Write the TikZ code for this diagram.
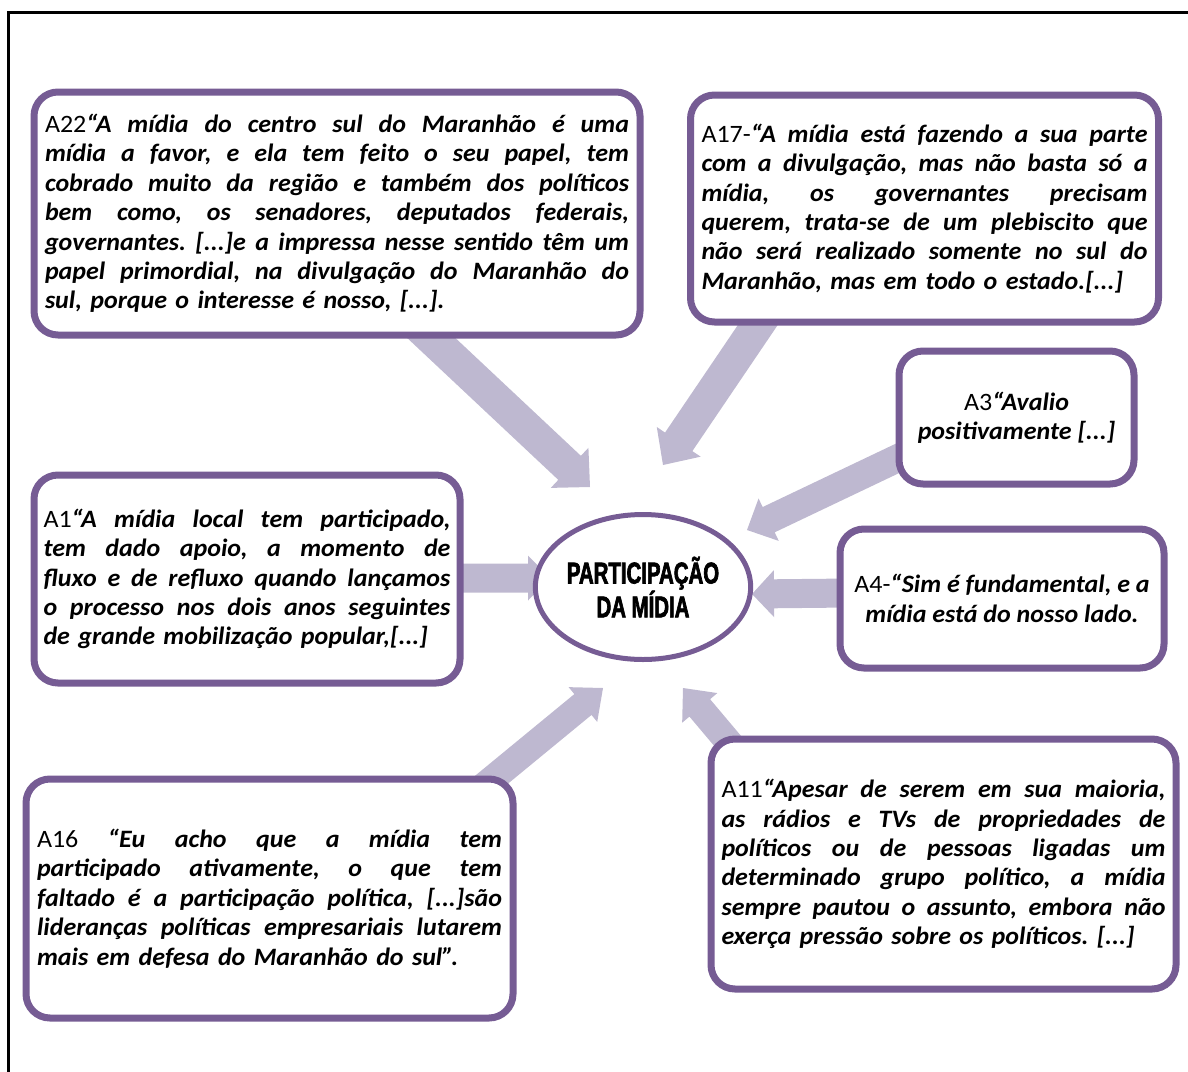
\documentclass[tikz,border=0pt]{standalone}
\usepackage{fontspec}
\setmainfont{Carlito}[FakeStretch=1.04]
\newfontfamily\impactfont{Liberation Sans}[FakeStretch=0.68, BoldFeatures={FakeBold=2.2}]
\usetikzlibrary{calc,shapes.geometric}
\definecolor{boxpurple}{RGB}{118,92,148}
\definecolor{arrowlav}{RGB}{190,184,208}
\newcommand\qt{\bfseries\itshape}
\newcommand\jl[2]{\hbox to #1{\spaceskip=0.23em plus 1fil\relax #2}}
\newcommand\lastl[1]{\hbox{#1}}
\newcommand\blockarrow[5]{%
  \coordinate (ba-b) at ($(#2)!#5!(#1)$);
  \fill[arrowfill] ($(#1)!#3!90:(#2)$) -- ($(ba-b)!#3!90:(#2)$) -- ($(ba-b)!#4!90:(#2)$) -- (#2)
    -- ($(ba-b)!#4!-90:(#2)$) -- ($(ba-b)!#3!-90:(#2)$) -- ($(#1)!#3!-90:(#2)$) -- cycle;}
\tikzset{
  arrowfill/.style={fill=arrowlav},
  quotebox/.style={draw=boxpurple, line width=7pt, rounded corners=24pt, fill=white,
    inner sep=0pt, font=\fontsize{25}{29.4}\selectfont\frenchspacing},
  frameline/.style={line width=3pt, black},
}
\begin{document}
\begin{tikzpicture}[x=1pt,y=-1pt]
\useasboundingbox (0,0) rectangle (1188,1071);
\draw[frameline] (8,1075) -- (8,12) -- (1192,12);
% arrow end points
\coordinate (s1) at (410,318); \coordinate (t1) at (590,487);
\coordinate (s2) at (770,307); \coordinate (t2) at (663,465);
\coordinate (s3) at (915,450); \coordinate (t3) at (747,530);
\coordinate (s4) at (850,593); \coordinate (t4) at (752,594);
\coordinate (s5) at (450,578); \coordinate (t5) at (550,578);
\coordinate (s6) at (479,790); \coordinate (t6) at (603,688);
\coordinate (s7) at (742,758); \coordinate (t7) at (683,688);
\blockarrow{s1}{t1}{16.5pt}{27.5pt}{28pt}
\blockarrow{s2}{t2}{16.5pt}{26.5pt}{28pt}
\blockarrow{s3}{t3}{14pt}{23.5pt}{24pt}
\blockarrow{s4}{t4}{14.5pt}{23.5pt}{22pt}
\blockarrow{s5}{t5}{14.5pt}{22.5pt}{22pt}
\blockarrow{s6}{t6}{13.5pt}{22.5pt}{26pt}
\blockarrow{s7}{t7}{13.5pt}{23pt}{26pt}
% boxes
\node[quotebox, minimum width=606pt, minimum height=243pt, text width=584pt] (a22) at (337,213.5) {%
\jl{584pt}{A22{\qt “A mídia do centro sul do Maranhão é uma}}
\jl{584pt}{\qt mídia a favor, e ela tem feito o seu papel, tem}
\jl{584pt}{\qt cobrado muito da região e também dos políticos}
\jl{584pt}{\qt bem como, os senadores, deputados federais,}
\jl{584pt}{\qt governantes. [...]e a impressa nesse sentido têm um}
\jl{584pt}{\qt papel primordial, na divulgação do Maranhão do}
\lastl{\qt sul, porque o interesse é nosso, [...].}};
\node[quotebox, minimum width=468pt, minimum height=227pt, text width=446pt] (a17) at (924.5,208.5) {%
\jl{446pt}{A17-{\qt “A mídia está fazendo a sua parte}}
\jl{446pt}{\qt com a divulgação, mas não basta só a}
\jl{446pt}{\qt mídia, os governantes precisam}
\jl{446pt}{\qt querem, trata-se de um plebiscito que}
\jl{446pt}{\qt não será realizado somente no sul do}
\lastl{\qt Maranhão, mas em todo o estado.[...]}};
\node[quotebox, minimum width=235pt, minimum height=133pt, align=center] (a3) at (1016.5,417.5) {%
A3{\qt “Avalio}\\{\qt positivamente [...]}};
\node[quotebox, minimum width=324pt, minimum height=139pt, align=center] (a4) at (1002,598.5) {%
A4-{\qt “Sim é fundamental, e a}\\{\qt mídia está do nosso lado.}};
\node[quotebox, minimum width=426pt, minimum height=208pt, text width=407pt] (a1) at (247,579) {%
\jl{407pt}{A1{\qt “A mídia local tem participado,}}
\jl{407pt}{\qt tem dado apoio, a momento de}
\jl{407pt}{\qt fluxo e de refluxo quando lançamos}
\jl{407pt}{\qt o processo nos dois anos seguintes}
\lastl{\qt de grande mobilização popular,[...]}};
\node[quotebox, minimum width=487pt, minimum height=239pt, text width=465pt] (a16) at (269.5,898.5) {%
\jl{465pt}{A16 {\qt “Eu acho que a mídia tem}}
\jl{465pt}{\qt participado ativamente, o que tem}
\jl{465pt}{\qt faltado é a participação política, [...]são}
\jl{465pt}{\qt lideranças políticas empresariais lutarem}
\lastl{\qt mais em defesa do Maranhão do sul”.}};
\node[quotebox, minimum width=465pt, minimum height=250pt, text width=444pt] (a11) at (943.5,864) {%
\jl{444pt}{A11{\qt “Apesar de serem em sua maioria,}}
\jl{444pt}{\qt as rádios e TVs de propriedades de}
\jl{444pt}{\qt políticos ou de pessoas ligadas um}
\jl{444pt}{\qt determinado grupo político, a mídia}
\jl{444pt}{\qt sempre pautou o assunto, embora não}
\lastl{\qt exerça pressão sobre os políticos. [...]}};
% center
\node[ellipse, draw=boxpurple, line width=5pt, fill=white, minimum width=187pt, minimum height=145pt,
  inner sep=0pt, align=center, font=\impactfont\bfseries\fontsize{30}{27}\selectfont] (c) at (643,587)
  {PARTICIPAÇÃO\\DA MÍDIA};
\end{tikzpicture}
\end{document}
